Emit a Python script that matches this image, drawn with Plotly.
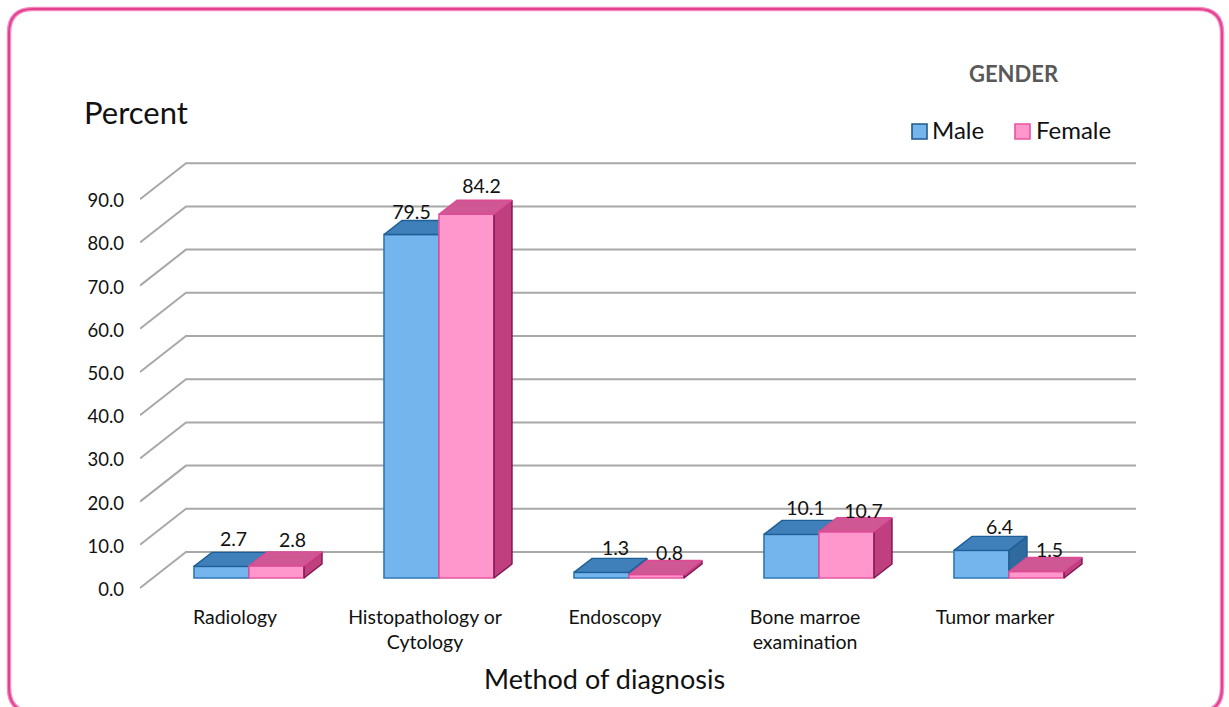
import plotly.graph_objects as go

# ---------- data ----------
categories = ["Radiology", "Histopathology or<br>Cytology", "Endoscopy",
              "Bone marroe<br>examination", "Tumor marker"]
male = [2.7, 79.5, 1.3, 10.1, 6.4]
female = [2.8, 84.2, 0.8, 10.7, 1.5]
y_ticks = [0, 10, 20, 30, 40, 50, 60, 70, 80, 90]

# ---------- geometry (pixels of the 1229x707 canvas) ----------
W, H = 1229, 707
L, R, T, B = 140, 1136, 120, 596
PX_PER_CAT = 190.0
X0_PX = 249.0          # pixel of category index 0
Y0_PX = 589.5          # pixel of value 0 on the axis
PX_PER_VAL = 4.32

def ux(px): return px / PX_PER_CAT
def uy(px): return px / PX_PER_VAL
def pap_x(px): return (px - L) / (R - L)
def pap_y(py): return (B - py) / (B - T)

x_range = [(L - X0_PX) / PX_PER_CAT, (R - X0_PX) / PX_PER_CAT]
y_range = [(Y0_PX - B) / PX_PER_VAL, (Y0_PX - T) / PX_PER_VAL]

BAR_W = ux(55)
FLOOR = uy(11.5)       # bar base above the front axis zero
DX, DY = ux(18), uy(14)  # bar depth
WALL_DX = ux(46)
WALL_DY = uy(37.5)

FONT = "Lato"
MALE = dict(front="#74B5EE", edge="#2E78B8", top="#3F7FBA", top_edge="#1F5F96", side="#2F6B9F", dark="#1F5A8C")
FEMALE = dict(front="#FF97CD", edge="#E8559F", top="#CE5794", top_edge="#DE4A95", side="#BF3F7F", dark="#7C1650")

# label nudges in pixels relative to the top-centre of each front face
male_lab_dx = [12, 0, 14, 14, 18]
male_lab_dy = [25, 20, 22, 24, 21]
female_lab_dx = [16, 15, 13, 17, 13]
female_lab_dy = [24, 26, 19.5, 19, 19]

fig = go.Figure()

# back wall and side wall lines, on the axis ticks
wx, wy = [], []
for t in y_ticks:
    wx += [x_range[0], x_range[0] + WALL_DX, x_range[1], None]
    wy += [t + uy(1.5), t + WALL_DY, t + WALL_DY, None]
fig.add_trace(go.Scatter(x=wx, y=wy, mode="lines", line=dict(color="#A8A8A8", width=2),
                         hoverinfo="skip", showlegend=False))


def add_series(name, vals, sign, col, xa, ya):
    centers = [i + sign * BAR_W / 2 for i in range(len(vals))]
    tx, ty, sx, sy = [], [], [], []
    for c, v in zip(centers, vals):
        x0, x1 = c - BAR_W / 2, c + BAR_W / 2
        top = FLOOR + v
        tx += [x0, x1, x1 + DX, x0 + DX, x0, None]
        ty += [top, top, top + DY, top + DY, top, None]
        sx += [x1, x1 + DX, x1 + DX, x1, x1, None]
        sy += [FLOOR, FLOOR + DY, top + DY, top, FLOOR, None]
    fig.add_trace(go.Bar(x=centers, y=vals, base=[FLOOR] * len(vals), width=BAR_W, name=name,
                         marker=dict(color=col["front"], line=dict(color=col["edge"], width=1.6)),
                         xaxis=xa, yaxis=ya, showlegend=False))
    fig.add_trace(go.Scatter(x=sx, y=sy, mode="lines", fill="toself", fillcolor=col["side"],
                             line=dict(color=col["dark"], width=1.4), hoverinfo="skip",
                             showlegend=False, xaxis=xa, yaxis=ya))
    fig.add_trace(go.Scatter(x=tx, y=ty, mode="lines", fill="toself", fillcolor=col["top"],
                             line=dict(color=col["top_edge"], width=1.4), hoverinfo="skip",
                             showlegend=False, xaxis=xa, yaxis=ya))


add_series("Male", male, -1, MALE, "x2", "y2")
add_series("Female", female, 1, FEMALE, "x3", "y3")

# value labels
lab_x = [i - BAR_W / 2 + ux(d) for i, d in enumerate(male_lab_dx)] + \
        [i + BAR_W / 2 + ux(d) for i, d in enumerate(female_lab_dx)]
lab_y = [FLOOR + v + uy(d) for v, d in zip(male, male_lab_dy)] + \
        [FLOOR + v + uy(d) for v, d in zip(female, female_lab_dy)]
lab_t = [f"{v:.1f}" for v in male + female]
fig.add_trace(go.Scatter(x=lab_x, y=lab_y, text=lab_t, mode="text", textposition="middle center",
                         textfont=dict(family=FONT, size=19.5, color="#111111"), hoverinfo="skip",
                         showlegend=False, xaxis="x3", yaxis="y3"))

# frame
fl, ft, fr, fb, rad = 9, 9, 1222, 712, 24
frame = (f"M {pap_x(fl + rad)} {pap_y(ft)} L {pap_x(fr - rad)} {pap_y(ft)} "
         f"Q {pap_x(fr)} {pap_y(ft)} {pap_x(fr)} {pap_y(ft + rad)} "
         f"L {pap_x(fr)} {pap_y(fb - rad)} Q {pap_x(fr)} {pap_y(fb)} {pap_x(fr - rad)} {pap_y(fb)} "
         f"L {pap_x(fl + rad)} {pap_y(fb)} Q {pap_x(fl)} {pap_y(fb)} {pap_x(fl)} {pap_y(fb - rad)} "
         f"L {pap_x(fl)} {pap_y(ft + rad)} Q {pap_x(fl)} {pap_y(ft)} {pap_x(fl + rad)} {pap_y(ft)} Z")
shapes = [
    dict(type="path", xref="paper", yref="paper", path=frame, line=dict(color="#F48CC2", width=4.5), layer="below"),
    dict(type="path", xref="paper", yref="paper", path=frame, line=dict(color="#E5408F", width=2), layer="below"),
]

# legend swatches and text
swatches = [(912, MALE), (1015, FEMALE)]
for px, col in swatches:
    shapes.append(dict(type="rect", xref="paper", yref="paper", x0=pap_x(px), x1=pap_x(px + 15),
                       y0=pap_y(139), y1=pap_y(124), fillcolor=col["front"],
                       line=dict(color=col["dark"] if col is MALE else col["edge"], width=1.6)))


def note(text, px, py, size, color="#111111", anchor="center", bold=False):
    return dict(text=f"<b>{text}</b>" if bold else text, xref="paper", yref="paper",
                x=pap_x(px), y=pap_y(py), xanchor=anchor, yanchor="middle", showarrow=False,
                font=dict(family=FONT, size=size, color=color))


annotations = [
    note("Percent", 82, 112, 31, anchor="left"),
    note("GENDER", 1014, 74, 22, color="#595959", bold=True),
    note("Male", 930, 129, 24, anchor="left"),
    note("Female", 1034, 129, 24, anchor="left"),
    note("Method of diagnosis", 604, 678, 27),
]

fig.update_layout(
    width=W, height=H, autosize=False,
    margin=dict(l=L, r=W - R, t=T, b=H - B, pad=0),
    paper_bgcolor="white", plot_bgcolor="rgba(0,0,0,0)",
    barmode="overlay", showlegend=False,
    shapes=shapes, annotations=annotations,
    xaxis=dict(range=x_range, tickmode="array",
               tickvals=[i - ux(14) for i in range(len(categories))], ticktext=categories,
               showgrid=False, zeroline=False, showline=False, ticks="",
               ticklabelstandoff=7, tickangle=0,
               tickfont=dict(family=FONT, size=19.5, color="#111111")),
    yaxis=dict(range=y_range, tickmode="array", tickvals=y_ticks,
               ticktext=[f"{t:.1f}" for t in y_ticks],
               showgrid=False, zeroline=False, showline=False, ticks="",
               ticklabelstandoff=15,
               tickfont=dict(family=FONT, size=18.5, color="#111111")),
    xaxis2=dict(range=x_range, overlaying="x", visible=False),
    yaxis2=dict(range=y_range, overlaying="y", visible=False),
    xaxis3=dict(range=x_range, overlaying="x", visible=False),
    yaxis3=dict(range=y_range, overlaying="y", visible=False),
)

fig.write_html("out.html", config={"displayModeBar": False},
               post_script="document.body.style.margin='0';")
